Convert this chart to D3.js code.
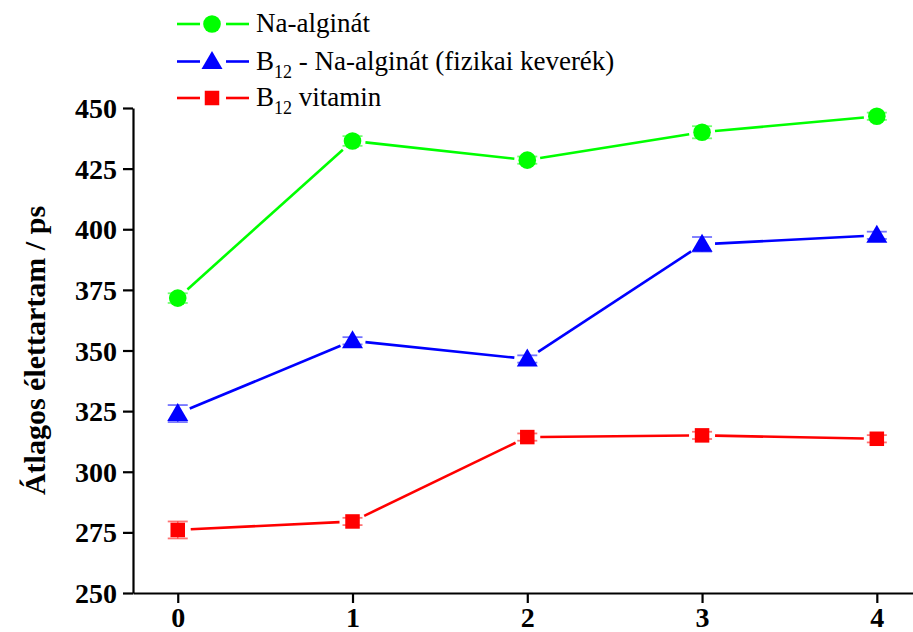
<!DOCTYPE html>
<html>
<head>
<meta charset="utf-8">
<script src="https://cdn.jsdelivr.net/npm/d3@7"></script>
<style>
  html, body { margin: 0; padding: 0; background: #fff; }
  svg { display: block; }
</style>
</head>
<body>
<svg id="chart" width="913" height="632"></svg>
<script>
// ---- data ----
const xValues = [0, 1, 2, 3, 4];
const yTicks = [250, 275, 300, 325, 350, 375, 400, 425, 450];
const naAlginat = [371.6, 436.4, 428.5, 440.0, 446.6];
const naAlginatErr = [2, 2, 1.5, 2.5, 1.5];
const b12Mix = [324.0, 354.0, 346.5, 393.8, 397.5];
const b12MixErr = [3.5, 1.5, 1.5, 3, 1.5];
const b12Vitamin = [276.0, 279.5, 314.3, 315.0, 313.6];
const b12VitaminErr = [3.5, 1.5, 1.5, 1.5, 1.5];
const yTitle = "Átlagos élettartam / ps";

const series = [
  { name: ["Na-alginát"], values: naAlginat, err: naAlginatErr, color: "#00ff00", errColor: "rgba(0,255,0,0.55)", symbol: "circle" },
  { name: ["B", "12", " - Na-alginát (fizikai keverék)"], values: b12Mix, err: b12MixErr, color: "#0000ff", errColor: "rgba(0,0,255,0.55)", symbol: "triangle" },
  { name: ["B", "12", " vitamin"], values: b12Vitamin, err: b12VitaminErr, color: "#ff0000", errColor: "rgba(255,0,0,0.55)", symbol: "square" }
];

const FONT = '"Liberation Serif"';
const svg = d3.select("#chart");

const x = d3.scaleLinear().domain([-0.256, 4.207]).range([133, 913]);
const y = d3.scaleLinear().domain([250, 450]).range([593, 108]);

// ---- axes ----
const yAxis = svg.append("g").attr("transform", `translate(${x.range()[0]},0)`)
  .call(d3.axisLeft(y).tickValues(yTicks).tickSize(10).tickPadding(6).tickSizeOuter(0));
yAxis.select(".domain").attr("stroke-width", 2.2);
yAxis.selectAll(".tick line").attr("stroke-width", 2.2);
yAxis.selectAll(".tick text").style("font-family", FONT).attr("font-weight", "bold")
  .attr("font-size", 28).attr("fill", "#000").attr("dy", "0.34em");

const xAxis = svg.append("g").attr("transform", `translate(0,${y.range()[0]})`)
  .call(d3.axisBottom(x).tickValues(xValues).tickFormat(d3.format("d")).tickSize(10).tickPadding(6).tickSizeOuter(0));
xAxis.select(".domain").attr("stroke-width", 2.2);
xAxis.selectAll(".tick line").attr("stroke-width", 2.2);
xAxis.selectAll(".tick text").style("font-family", FONT).attr("font-weight", "bold")
  .attr("font-size", 28).attr("fill", "#000").attr("dy", "0.66em");

svg.append("text")
  .attr("transform", `translate(45,${(y.range()[0] + y.range()[1]) / 2}) rotate(-90)`)
  .attr("text-anchor", "middle")
  .style("font-family", FONT).attr("font-weight", "bold").attr("font-size", 30)
  .text(yTitle);

// ---- symbols ----
function drawSymbol(g, type, cx, cy, color) {
  if (type === "circle") {
    g.append("circle").attr("cx", cx).attr("cy", cy).attr("r", 8.8).attr("fill", color);
  } else if (type === "triangle") {
    const w = 21, h = 18;
    g.append("path").attr("d", `M${cx},${cy - h * 0.58} L${cx + w / 2},${cy + h * 0.42} L${cx - w / 2},${cy + h * 0.42} Z`).attr("fill", color);
  } else {
    const s = 14.5;
    g.append("rect").attr("x", cx - s / 2).attr("y", cy - s / 2).attr("width", s).attr("height", s).attr("fill", color);
  }
}

const gap = 13;
series.forEach(s => {
  const g = svg.append("g");
  const pts = s.values.map((v, i) => [x(xValues[i]), y(v)]);
  for (let i = 0; i < pts.length - 1; i++) {
    const [x1, y1] = pts[i], [x2, y2] = pts[i + 1];
    const dx = x2 - x1, dy = y2 - y1, L = Math.hypot(dx, dy);
    const ux = dx / L, uy = dy / L;
    g.append("line")
      .attr("x1", x1 + ux * gap).attr("y1", y1 + uy * gap)
      .attr("x2", x2 - ux * gap).attr("y2", y2 - uy * gap)
      .attr("stroke", s.color).attr("stroke-width", 2.6);
  }
  s.values.forEach((v, i) => {
    const cx = x(xValues[i]);
    const yt = y(v + s.err[i]), yb = y(v - s.err[i]);
    g.append("line").attr("x1", cx).attr("x2", cx).attr("y1", yt).attr("y2", yb)
      .attr("stroke", s.errColor).attr("stroke-width", 1.5);
    [yt, yb].forEach(yy => g.append("line").attr("x1", cx - 10).attr("x2", cx + 10)
      .attr("y1", yy).attr("y2", yy).attr("stroke", s.errColor).attr("stroke-width", 1.8));
  });
  pts.forEach(([cx, cy]) => drawSymbol(g, s.symbol, cx, cy, s.color));
});

// ---- legend ----
const legendRows = [24, 61.5, 98];
series.forEach((s, i) => {
  const g = svg.append("g");
  const cy = legendRows[i];
  g.append("line").attr("x1", 177).attr("x2", 200).attr("y1", cy).attr("y2", cy).attr("stroke", s.color).attr("stroke-width", 2.6);
  g.append("line").attr("x1", 226).attr("x2", 249).attr("y1", cy).attr("y2", cy).attr("stroke", s.color).attr("stroke-width", 2.6);
  drawSymbol(g, s.symbol, 212, cy, s.color);
  const t = g.append("text").attr("x", 256).attr("y", cy + 8)
    .style("font-family", FONT).attr("font-size", 27).attr("fill", "#000");
  if (s.name.length === 1) {
    t.text(s.name[0]);
  } else {
    t.append("tspan").text(s.name[0]);
    t.append("tspan").attr("font-size", 18).attr("dy", 8).text(s.name[1]);
    t.append("tspan").attr("dy", -8).text(s.name[2]);
  }
});
</script>
</body>
</html>
